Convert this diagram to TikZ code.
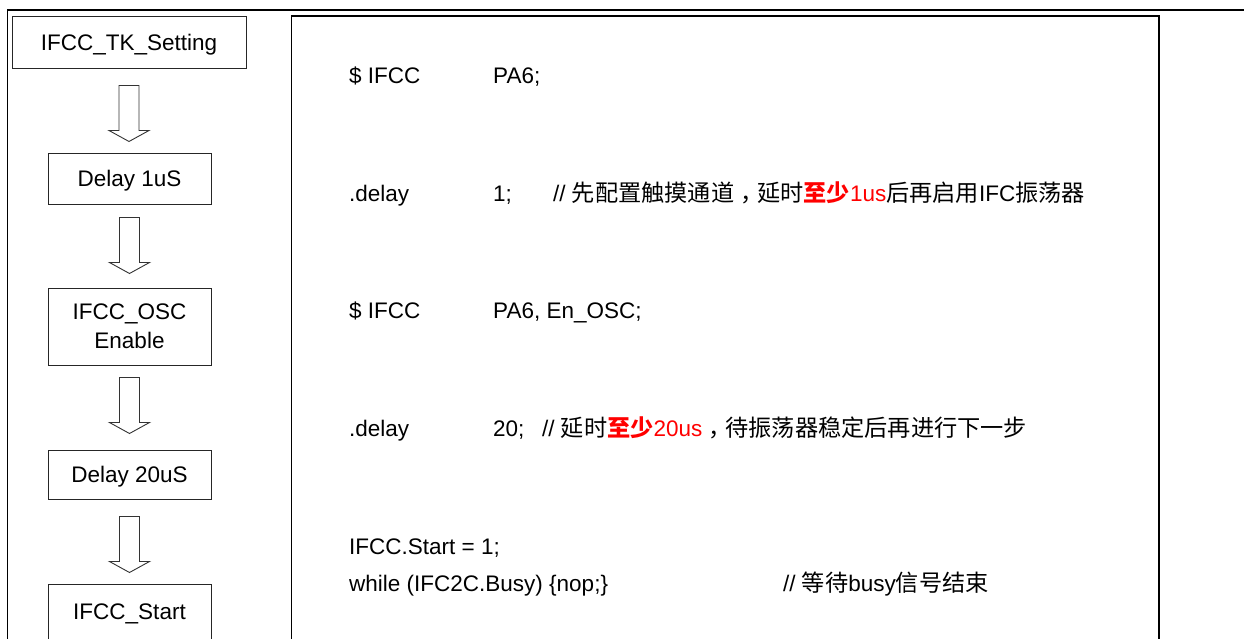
\documentclass[tikz,border=0pt]{standalone}
\usepackage{fontspec}
\setmainfont{Liberation Sans}
\newfontfamily\cjk[Scale=1.03]{Noto Sans CJK SC}
\newcommand\cjkcomma{{\cjk\kern0.28em，\kern-0.28em}}
\usetikzlibrary{calc}
\begin{document}
\begin{tikzpicture}[x=1pt,y=-1pt,
  every node/.style={font=\fontsize{22.5}{29}\selectfont},
  stepbox/.style={draw=black!85,line width=1pt,inner sep=0pt,align=center},
  onetext/.style={text height=19pt,text depth=4pt},
  codetext/.style={anchor=base west,inner sep=0pt},
  blockarr/.style={draw=black!80,line width=0.9pt,fill=white},
  frameline/.style={draw=black,line width=1.8pt}]
\useasboundingbox (0,0) rectangle (1244,639);
% frames
\draw[frameline] (7,10) -- (1244,10);
\draw[frameline] (7.5,10) -- (7.5,660);
\draw[frameline] (291.5,16) rectangle (1159,660);
% left flow boxes
\node[stepbox,onetext,minimum width=234pt,minimum height=52pt] (n1) at (129,43) {IFCC\_TK\_Setting};
\node[stepbox,onetext,minimum width=163pt,minimum height=50pt] (n2) at (129.5,179) {Delay 1uS};
\node[stepbox,minimum width=163pt,minimum height=77pt] (n3) at (129.5,326.5) {IFCC\_OSC\\Enable};
\node[stepbox,onetext,minimum width=163pt,minimum height=49pt] (n4) at (129.5,474.5) {Delay 20uS};
\node[stepbox,onetext,minimum width=163pt,minimum height=56pt] (n5) at (129.5,612) {IFCC\_Start};
% block arrows
\newcommand\blkarrow[4]{% from node, gap below, to node, gap above
  \coordinate (t) at ($(#1.south)+(0,#2)$);
  \coordinate (b) at ($(#3.north)+(0,-#4)$);
  \draw[blockarr] let \p1=(t), \p2=(b) in
    (\x1-10pt,\y1) -- (\x1+10pt,\y1) -- (\x1+10pt,\y2+11pt) -- (\x1+20pt,\y2+11pt)
    -- (\x1,\y2) -- (\x1-20pt,\y2+11pt) -- (\x1-10pt,\y2+11pt) -- cycle;}
\blkarrow{n1}{16}{n2}{12}
\blkarrow{n2}{13}{n3}{14}
\blkarrow{n3}{12}{n4}{16}
\blkarrow{n4}{17}{n5}{11}
% code lines
\node[codetext] (c1a) at (349,84) {\$ IFCC};
\node[codetext] (c1b) at (493,84) {PA6;};
\node[codetext] (c2a) at (349,201) {.delay};
\node[codetext] (c2b) at (493,201) {1;};
\node[codetext] (c2c) at (553,201) {// {\cjk 先配置触摸通道}\cjkcomma{\cjk 延时}{\color{red}\cjk\bfseries 至少}{\color{red}1us}{\cjk 后再启用}IFC{\cjk 振荡器}};
\node[codetext] (c3a) at (349,318) {\$ IFCC};
\node[codetext] (c3b) at (493,318) {PA6, En\_OSC;};
\node[codetext] (c4a) at (349,436) {.delay};
\node[codetext] (c4b) at (493,436) {20;};
\node[codetext] (c4c) at (542,436) {// {\cjk 延时}{\color{red}\cjk\bfseries 至少}{\color{red}20us}\cjkcomma{\cjk 待振荡器稳定后再进行下一步}};
\node[codetext] (c5a) at (349,554) {IFCC.Start = 1;};
\node[codetext] (c6a) at (349,591) {while (IFC2C.Busy) \{nop;\}};
\node[codetext] (c6b) at (783,591) {// {\cjk 等待}busy{\cjk 信号结束}};
\end{tikzpicture}
\end{document}
